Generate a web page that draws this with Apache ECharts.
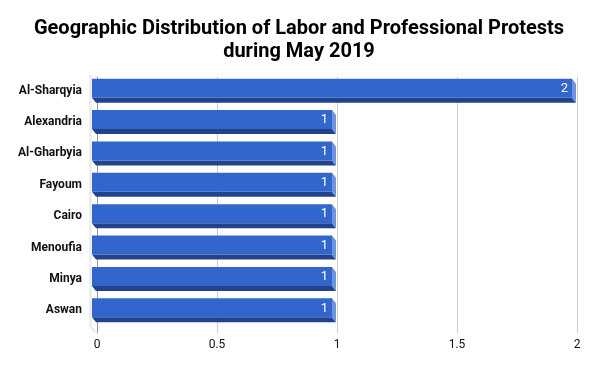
<!DOCTYPE html>
<html>
<head>
<meta charset="utf-8">
<script src="https://cdn.jsdelivr.net/npm/echarts@6/dist/echarts.min.js"></script>
<style>
html,body{margin:0;padding:0;background:#fff;}
#chart{width:598px;height:372px;}
</style>
</head>
<body>
<div id="chart"></div>
<script>
var titleText = 'Geographic Distribution of Labor and Professional Protests\nduring May 2019';
var categories = ['Al-Sharqyia', 'Alexandria', 'Al-Gharbyia', 'Fayoum', 'Cairo', 'Menoufia', 'Minya', 'Aswan'];
var values = [2, 1, 1, 1, 1, 1, 1, 1];
var xTicks = [0, 0.5, 1, 1.5, 2];

var chart = echarts.init(document.getElementById('chart'), null, {renderer: 'canvas'});

var FRONT = '#3366cc', BOTTOM = '#22438c', SIDE = '#6f94de';

function renderItem(params, api) {
  var idx = api.value(0);
  var v = api.value(1);
  var p0 = api.coord([0, idx]);
  var p1 = api.coord([v, idx]);
  var X0 = p0[0], X1 = p1[0], yc = p0[1];
  var top = yc - 12, fb = yc + 7, bb = yc + 12;
  var L = X0 - 5, R = X1 - 5;
  return {
    type: 'group',
    children: [
      {type: 'polygon', shape: {points: [[L, fb], [R, fb], [R + 4, bb], [L + 4, bb]]}, style: {fill: BOTTOM}, z2: 1},
      {type: 'polygon', shape: {points: [[R, top], [R + 4, top + 5], [R + 4, bb], [R, fb]]}, style: {fill: SIDE}, z2: 1},
      {type: 'rect', shape: {x: L, y: top, width: R - L, height: fb - top}, style: {fill: FRONT}, z2: 2},
      {type: 'text', x: R - 4, y: (top + fb) / 2 + 0.5,
        style: {text: String(v), fill: '#ffffff', font: '13px Roboto', align: 'right', verticalAlign: 'middle'}, z2: 3}
    ]
  };
}

function renderWall(params, api) {
  var cs = params.coordSys;
  var X0 = api.coord([0, 0])[0];
  return {
    type: 'polygon',
    shape: {points: [[X0 - 8, cs.y], [X0 - 5, cs.y], [X0 - 5, cs.y + cs.height], [X0, cs.y + cs.height + 7], [X0 - 3, cs.y + cs.height + 7], [X0 - 8, cs.y + cs.height]]},
    style: {fill: '#eeeeee'}
  };
}

var data = values.map(function (v, i) { return [i, v]; });

chart.setOption({
  animation: false,
  backgroundColor: '#ffffff',
  title: {
    text: titleText,
    left: 'center',
    top: 12,
    textStyle: {fontFamily: 'Roboto', fontWeight: 'bold', fontSize: 20, lineHeight: 23, color: '#000'}
  },
  grid: [
    {left: 97, right: 21, top: 77, bottom: 39},
    {left: 97, right: 21, top: 75, bottom: 46}
  ],
  xAxis: [{
    gridIndex: 0,
    type: 'value',
    min: xTicks[0],
    max: xTicks[xTicks.length - 1],
    interval: 0.5,
    axisLine: {show: false},
    axisTick: {show: false},
    splitLine: {show: true, lineStyle: {color: '#cccccc', width: 1}},
    axisLabel: {margin: 6, fontFamily: 'Roboto', fontSize: 12, color: '#111'}
  }, {
    gridIndex: 1,
    type: 'value',
    min: xTicks[0],
    max: xTicks[xTicks.length - 1],
    interval: 0.5,
    show: false
  }],
  yAxis: [{
    gridIndex: 0,
    type: 'category',
    data: categories,
    inverse: true,
    axisLine: {show: true, lineStyle: {color: '#9a9a9a', width: 1}},
    axisTick: {show: false},
    splitLine: {show: false},
    axisLabel: {show: false}
  }, {
    gridIndex: 1,
    type: 'category',
    data: categories,
    inverse: true,
    axisLine: {show: false},
    axisTick: {show: false},
    splitLine: {show: false},
    axisLabel: {margin: 15, fontFamily: 'Roboto', fontWeight: 'bold', fontSize: 12, color: '#111', padding: [0, 0, 5, 0]}
  }],
  series: [{
    type: 'custom',
    xAxisIndex: 1,
    yAxisIndex: 1,
    renderItem: renderWall,
    data: [[0, 0]],
    encode: {x: 0, y: 1},
    clip: false,
    z: 0
  }, {
    type: 'custom',
    xAxisIndex: 1,
    yAxisIndex: 1,
    renderItem: renderItem,
    data: data,
    encode: {x: 1, y: 0},
    clip: false,
    z: 3
  }]
});
</script>
</body>
</html>
